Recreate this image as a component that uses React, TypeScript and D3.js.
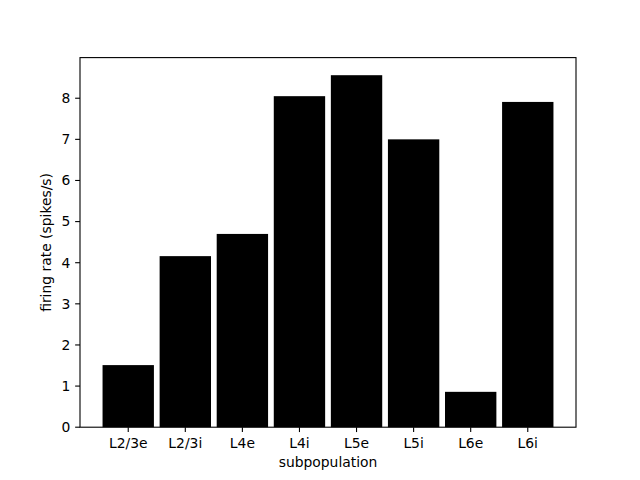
import React from "react";
import * as d3 from "d3";

const categories = ["L2/3e", "L2/3i", "L4e", "L4i", "L5e", "L5i", "L6e", "L6i"];
const rates = [1.51, 4.16, 4.70, 8.05, 8.56, 7.0, 0.86, 7.91];
const yTicks = [0, 1, 2, 3, 4, 5, 6, 7, 8];

export default function App() {
  const W = 640, H = 480;
  const left = 80, right = 576, top = 57.6, bottom = 427.2;
  const n = categories.length;
  const bw = 0.9;
  const lo = -bw / 2, hi = n - 1 + bw / 2;
  const pad = (hi - lo) * 0.05;
  const x = d3.scaleLinear().domain([lo - pad, hi + pad]).range([left, right]);
  const ymax = (d3.max(rates) as number) * 1.05;
  const y = d3.scaleLinear().domain([0, ymax]).range([bottom, top]);
  const fs = 13.89;
  const tick = 4.86;
  const font = "DejaVu Sans, sans-serif";
  return (
    <svg width={W} height={H} style={{ position: "absolute", left: 0, top: 0, background: "#fff" }} fontFamily={font}>
      <rect x={0} y={0} width={W} height={H} fill="#fff" />
      {rates.map((v, i) => (
        <rect key={i} x={x(i - bw / 2)} y={y(v)} width={x(i + bw / 2) - x(i - bw / 2)} height={y(0) - y(v)} fill="#000" />
      ))}
      <rect x={left} y={top} width={right - left} height={bottom - top} fill="none" stroke="#000" strokeWidth={1.1} />
      {yTicks.map((t) => (
        <g key={t}>
          <line x1={left - tick} x2={left} y1={y(t)} y2={y(t)} stroke="#000" strokeWidth={1.1} />
          <text x={left - tick - 4.86} y={y(t)} dy="0.35em" textAnchor="end" fontSize={fs} fill="#000">{t}</text>
        </g>
      ))}
      {categories.map((c, i) => (
        <g key={c}>
          <line x1={x(i)} x2={x(i)} y1={bottom} y2={bottom + tick} stroke="#000" strokeWidth={1.1} />
          <text x={x(i)} y={bottom + tick + 4.86 + 11} textAnchor="middle" fontSize={fs} fill="#000">{c}</text>
        </g>
      ))}
      <text x={(left + right) / 2} y={467} textAnchor="middle" fontSize={fs} fill="#000">subpopulation</text>
      <text transform={`translate(51,${(top + bottom) / 2}) rotate(-90)`} textAnchor="middle" fontSize={fs} fill="#000">firing rate (spikes/s)</text>
    </svg>
  );
}
